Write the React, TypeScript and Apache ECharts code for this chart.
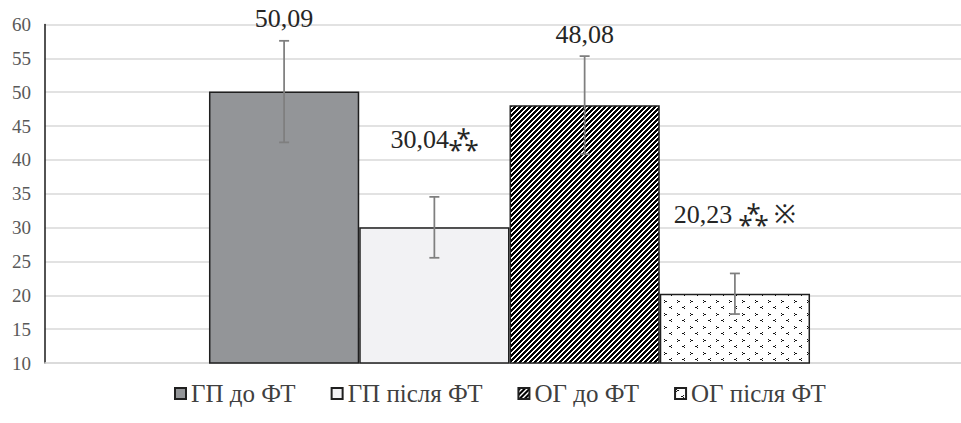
import React, { useEffect, useRef } from "react";
import * as echarts from "echarts";

const categories = [""];
const seriesNames = ["ГП до ФТ", "ГП після ФТ", "ОГ до ФТ", "ОГ після ФТ"];
const means = [50.09, 30.04, 48.08, 20.23];
const errors = [7.5, 4.5, 7.25, 3.0];
const labelTexts = ["50,09", "30,04⁂", "48,08", "20,23 ⁂ ※"];
const yMin = 10;
const yMax = 60;
const yStep = 5;

const GAP = 0.353;
const labelOffsets = [-55, -70, -53, -61];
const FONT = "'Liberation Serif', 'Times New Roman', serif";

function makeStripes(): HTMLCanvasElement {
  const n = 5;
  const c = document.createElement("canvas");
  c.width = n;
  c.height = n;
  const ctx = c.getContext("2d")!;
  ctx.fillStyle = "#ffffff";
  ctx.fillRect(0, 0, n, n);
  ctx.fillStyle = "#000000";
  for (let x = 0; x < n; x++) {
    for (let y = 0; y < n; y++) {
      if ((x + y) % n < 3) ctx.fillRect(x, y, 1, 1);
    }
  }
  return c;
}

function makeDots(): HTMLCanvasElement {
  const c = document.createElement("canvas");
  c.width = 13;
  c.height = 13;
  const ctx = c.getContext("2d")!;
  ctx.fillStyle = "#ffffff";
  ctx.fillRect(0, 0, 13, 13);
  ctx.fillStyle = "#111111";
  const px: [number, number][] = [
    [1, 1], [2, 2], [3, 2], [1, 3],
    [8, 7], [7, 8], [6, 8], [8, 9],
  ];
  px.forEach(([x, y]) => ctx.fillRect(x, y, 1, 1));
  return c;
}

export default function App() {
  const ref = useRef<HTMLDivElement>(null);
  useEffect(() => {
    if (!ref.current) return;
    const chart = echarts.init(ref.current, null, { renderer: "svg" });
    const stripes = makeStripes();
    const dots = makeDots();
    const fills: any[] = [
      "#939598",
      "#f2f2f4",
      { image: stripes, repeat: "repeat" },
      { image: dots, repeat: "repeat" },
    ];
    const barSeries = seriesNames.map((name, i) => ({
      name,
      type: "bar",
      barGap: "0%",
      barCategoryGap: GAP * 100 + "%",
      itemStyle: { color: fills[i], borderColor: "#1f1f1f", borderWidth: 1.5 },
      label: {
        show: true,
        position: "top",
        offset: [0, labelOffsets[i]],
        formatter: () => labelTexts[i],
        fontFamily: FONT,
        fontSize: 26,
        color: "#262626",
      },
      data: [means[i]],
      z: 2,
    }));
    const errData = means.map((m, i) => [0, m - errors[i], m + errors[i], i]);
    const option: any = {
      animation: false,
      grid: { left: 45, top: 24.5, width: 929, height: 338.5, outerBoundsMode: "none", containLabel: false },
      legend: {
        data: seriesNames,
        left: 169,
        top: 376,
        itemWidth: 11,
        itemHeight: 11,
        itemGap: 35,
        icon: "rect",
        textStyle: {
          fontFamily: FONT,
          fontSize: 25,
          color: "#404040",
        },
      },
      xAxis: {
        type: "category",
        data: categories,
        axisLine: { show: true, lineStyle: { color: "#d9d9d9", width: 1.5 } },
        axisTick: { show: false },
        axisLabel: { show: false },
      },
      yAxis: {
        type: "value",
        min: yMin,
        max: yMax,
        interval: yStep,
        axisLine: { show: true, lineStyle: { color: "#1a1a1a", width: 1.5 } },
        axisTick: { show: false },
        splitLine: { lineStyle: { color: "#d9d9d9", width: 1.5 } },
        axisLabel: {
          margin: 14,
          fontFamily: FONT,
          fontSize: 19,
          color: "#595959",
        },
      },
      series: [
        ...barSeries,
        {
          type: "custom",
          name: "err",
          z: 5,
          encode: { x: 0, y: [1, 2] },
          data: errData,
          renderItem: (params: any, api: any) => {
            const idx = api.value(3);
            const lo = api.coord([0, api.value(1)]);
            const hi = api.coord([0, api.value(2)]);
            const catW = api.size([1, 0])[0];
            const barW = (catW * (1 - GAP)) / 4;
            const x = lo[0] - 2 * barW + barW * (idx + 0.5);
            const style = { stroke: "#7f7f7f", lineWidth: 1.75 };
            const cap = 5;
            return {
              type: "group",
              children: [
                { type: "line", shape: { x1: x, y1: hi[1], x2: x, y2: lo[1] }, style },
                { type: "line", shape: { x1: x - cap, y1: hi[1], x2: x + cap, y2: hi[1] }, style },
                { type: "line", shape: { x1: x - cap, y1: lo[1], x2: x + cap, y2: lo[1] }, style },
              ],
            };
          },
        },
      ],
    };
    chart.setOption(option);
    return () => chart.dispose();
  }, []);
  return (
    <div
      ref={ref}
      style={{ position: "fixed", left: 0, top: 0, width: 961, height: 423, background: "#ffffff" }}
    />
  );
}
